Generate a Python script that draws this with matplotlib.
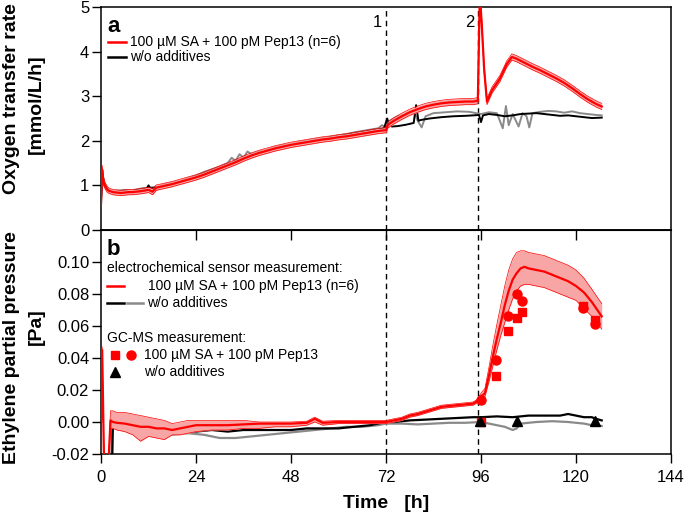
"""Two-panel chart: oxygen transfer rate (a) and ethylene partial pressure (b) over time."""

import matplotlib
matplotlib.use("Agg")
import matplotlib.pyplot as plt
import numpy as np

plt.rcParams["font.family"] = ["Liberation Sans", "DejaVu Sans"]

# ---- panel a: oxygen transfer rate [mmol/L/h] ----
OTR_T_RED = [0, 0.3, 0.6, 1.0, 1.5, 2, 3, 4, 5, 6, 7, 8,
             10, 12, 13, 14, 16, 18, 20, 22, 24, 26, 28, 30, 32, 34, 36, 38, 40,
             42, 44, 46, 48, 50, 52, 54, 56, 58, 60, 62, 64, 66, 68, 70, 72,
             72.5, 74, 76, 78, 80, 82, 84, 86, 88, 90, 92, 94,
             95.2, 95.7, 96.2, 96.8, 97.5, 98.8, 100.8, 102.5, 103.8, 105,
             107, 109, 111, 113, 115, 117, 119, 121, 123, 125, 126.5]
OTR_RED = [0.6, 1.35, 1.1, 1.0, 0.92, 0.88, 0.85, 0.84, 0.83, 0.84, 0.85, 0.85,
           0.87, 0.9, 0.86, 0.95, 0.99, 1.03, 1.08, 1.13, 1.18, 1.24, 1.31, 1.38, 1.45, 1.52, 1.6, 1.67, 1.73,
           1.78, 1.83, 1.87, 1.91, 1.94, 1.97, 2.0, 2.03, 2.05, 2.08, 2.1, 2.13, 2.16, 2.19, 2.22, 2.24,
           2.36, 2.45, 2.55, 2.64, 2.71, 2.77, 2.81, 2.84, 2.86, 2.87, 2.88, 2.88,
           2.9, 5.3, 4.6, 3.6, 2.88, 3.14, 3.4, 3.72, 3.88, 3.84,
           3.75, 3.66, 3.58, 3.49, 3.4, 3.3, 3.18, 3.05, 2.93, 2.83, 2.77]
OTR_RED_SD = [0.12, 0.1, 0.08, 0.07, 0.07, 0.06, 0.06, 0.06, 0.06, 0.06, 0.06, 0.06,
              0.06, 0.06, 0.07, 0.06, 0.06, 0.06, 0.06, 0.06, 0.06, 0.06, 0.06, 0.06, 0.06, 0.06, 0.06, 0.06, 0.06,
              0.06, 0.06, 0.06, 0.06, 0.06, 0.06, 0.06, 0.06, 0.06, 0.06, 0.06, 0.06, 0.06, 0.06, 0.06, 0.06,
              0.07, 0.07, 0.07, 0.07, 0.07, 0.07, 0.07, 0.07, 0.07, 0.07, 0.07, 0.07,
              0.07, 0.08, 0.08, 0.08, 0.07, 0.07, 0.07, 0.07, 0.07, 0.07,
              0.07, 0.07, 0.07, 0.07, 0.07, 0.07, 0.07, 0.07, 0.07, 0.07, 0.07]

OTR_T_BLACK = [0, 0.4, 0.8, 1.5, 2.5, 4, 6, 8, 10, 11.5,
               12, 12.5, 14, 16, 18, 20, 22, 24, 26, 28,
               30, 32, 34, 36, 38, 40, 42, 44, 46, 48, 50, 52, 54, 56, 58, 60, 62, 64, 66, 68, 70,
               71.5, 72.3, 72.8, 73.5, 75, 77, 79, 79.6, 80.2, 81,
               83, 86, 89, 92, 94, 95.5, 96, 96.5, 98, 100,
               102, 104, 106, 108, 110, 112, 114, 116, 118, 120,
               122, 124, 126.5]
OTR_BLACK = [0.7, 1.25, 1.05, 0.92, 0.86, 0.85, 0.86, 0.88, 0.9, 0.92,
             1.0, 0.93, 0.95, 1.0, 1.04, 1.09, 1.14, 1.2, 1.26, 1.33,
             1.4, 1.47, 1.54, 1.61, 1.68, 1.74, 1.79, 1.84, 1.88, 1.92, 1.95, 1.98, 2.01, 2.04, 2.07,
             2.1, 2.13, 2.16, 2.19, 2.22, 2.25,
             2.28, 2.5, 2.35, 2.32, 2.33, 2.36, 2.4, 2.8, 2.45, 2.47,
             2.5, 2.53, 2.55, 2.56, 2.57, 2.58, 2.42, 2.57, 2.6, 2.58,
             2.55, 2.57, 2.6, 2.61, 2.62, 2.6, 2.58, 2.56, 2.57, 2.55,
             2.53, 2.51, 2.52]

OTR_T_GRAY = [0, 0.4, 0.8, 1.5, 2.5, 4, 6, 8, 10, 12,
              14, 16, 18, 20, 22, 24, 26, 28, 30, 32,
              33, 34, 35, 36, 37, 38, 40, 42, 44, 46,
              48, 50, 52, 54, 56, 58, 60, 62, 64, 66,
              68, 70, 71, 72, 73, 75, 77, 79, 80, 81,
              82, 84, 87, 90, 93, 96, 98, 100, 101.5, 102.3,
              103, 104, 105.5, 106.5, 107.5, 108.2, 109, 111, 113, 115,
              117, 119, 121, 123, 125, 126.5]
OTR_GRAY = [0.55, 1.2, 1.0, 0.9, 0.87, 0.88, 0.9, 0.88, 0.93, 0.95,
            0.97, 1.02, 1.06, 1.1, 1.16, 1.22, 1.3, 1.36, 1.42, 1.5,
            1.62, 1.55, 1.7, 1.62, 1.76, 1.7, 1.76, 1.8, 1.86, 1.9,
            1.93, 1.97, 2.0, 2.03, 2.06, 2.09, 2.12, 2.15, 2.19, 2.22,
            2.25, 2.28, 2.35, 2.3, 2.45, 2.55, 2.6, 2.68, 2.45, 2.3,
            2.55, 2.62, 2.64, 2.66, 2.65, 2.6, 2.64, 2.62, 2.28, 2.78,
            2.35, 2.6, 2.32, 2.62, 2.55, 2.3, 2.62, 2.65, 2.67, 2.66,
            2.63, 2.66, 2.62, 2.6, 2.58, 2.57]

# ---- panel b: ethylene partial pressure [Pa] ----
ETH_T_RED = [0, 0.3, 0.8, 1.8, 2.4, 3, 4, 6, 8, 10,
             12, 14, 16, 18, 20, 22, 24, 28, 32, 36,
             40, 44, 48, 52, 54, 56, 60, 64, 68, 72,
             74, 76, 78, 80, 82, 84, 86, 88, 90, 92,
             94, 95, 96, 97, 98, 99, 100, 101, 102, 103,
             104, 105, 106, 107, 108, 110, 112, 114, 116, 118,
             120, 122, 124, 126.5]
ETH_RED = [0.0, 0.045, -0.03, -0.03, 0.001, 0.0, -0.0005, -0.001, -0.002, -0.003,
           -0.003, -0.004, -0.004, -0.005, -0.004, -0.003, -0.002, -0.002, -0.002, -0.0015,
           -0.001, -0.001, -0.001, -0.0005, 0.002, -0.0005, 0.0, 0.0, 0.0, 0.0,
           0.001, 0.002, 0.004, 0.005, 0.0065, 0.008, 0.0095, 0.010, 0.0105, 0.011,
           0.0115, 0.013, 0.016, 0.018, 0.029, 0.041, 0.052, 0.062, 0.073, 0.082,
           0.089, 0.093, 0.096, 0.097, 0.096, 0.095, 0.094, 0.092, 0.090, 0.088,
           0.085, 0.081, 0.075, 0.066]
ETH_RED_HI = [0.002, 0.047, -0.03, -0.03, 0.007, 0.007, 0.006, 0.006, 0.005, 0.004,
              0.003, 0.002, 0.001, -0.001, 0.0, 0.001, 0.001, 0.001, 0.001, 0.001,
              0.0, 0.0, 0.0, 0.0005, 0.003, 0.0005, 0.001, 0.001, 0.001, 0.001,
              0.002, 0.003, 0.005, 0.006, 0.0075, 0.009, 0.0105, 0.011, 0.0115, 0.012,
              0.0125, 0.014, 0.018, 0.021, 0.034, 0.048, 0.061, 0.073, 0.085, 0.095,
              0.102, 0.106, 0.107, 0.107, 0.106, 0.105, 0.104, 0.102, 0.100, 0.098,
              0.095, 0.090, 0.083, 0.074]
ETH_RED_LO = [-0.002, 0.043, -0.03, -0.03, -0.004, -0.004, -0.005, -0.006, -0.008, -0.012,
              -0.009, -0.010, -0.011, -0.008, -0.008, -0.007, -0.006, -0.005, -0.005, -0.004,
              -0.004, -0.003, -0.003, -0.002, 0.0, -0.002, -0.001, -0.001, -0.001, -0.001,
              0.0, 0.001, 0.003, 0.004, 0.0055, 0.007, 0.0085, 0.009, 0.0095, 0.010,
              0.0105, 0.012, 0.014, 0.016, 0.025, 0.035, 0.045, 0.054, 0.062, 0.070,
              0.077, 0.082, 0.085, 0.086, 0.086, 0.085, 0.084, 0.082, 0.080, 0.078,
              0.076, 0.071, 0.066, 0.058]

ETH_T_BLACK = [0, 2.8, 3.0, 3.4, 5, 8, 10, 12, 14, 16,
               18, 20, 22, 24, 28, 32, 36, 40, 44, 48,
               52, 56, 60, 64, 68, 72, 74, 78, 82, 86,
               90, 94, 96, 100, 104, 108, 112, 116, 118, 120,
               122, 124, 125, 126.5]
ETH_BLACK = [-0.03, -0.03, -0.001, -0.002, -0.003, -0.005, -0.004, -0.006, -0.005, -0.006,
             -0.006, -0.005, -0.006, -0.006, -0.005, -0.006, -0.005, -0.005, -0.005, -0.005,
             -0.004, -0.004, -0.004, -0.003, -0.002, 0.0, 0.0, 0.001, 0.0015, 0.002,
             0.0025, 0.003, 0.003, 0.0035, 0.003, 0.004, 0.004, 0.004, 0.005, 0.004,
             0.003, 0.003, 0.002, 0.001]

ETH_T_GRAY = [0, 2.5, 2.9, 3.3, 5, 8, 10, 14, 18, 22,
              26, 30, 34, 38, 42, 46, 50, 54, 58, 62,
              66, 70, 72, 76, 80, 84, 88, 92, 96, 98,
              100, 102, 104, 105, 106, 110, 114, 118, 122, 124,
              126.5]
ETH_GRAY = [-0.03, -0.03, -0.002, -0.002, -0.004, -0.007, -0.007, -0.008, -0.008, -0.007,
            -0.008, -0.010, -0.010, -0.009, -0.008, -0.007, -0.006, -0.005, -0.004, -0.003,
            -0.003, -0.002, -0.001, -0.001, -0.0015, -0.001, -0.0005, -0.0005, 0.0, -0.001,
            -0.002, -0.003, -0.005, -0.004, -0.001, 0.0, 0.0005, 0.0, -0.001, -0.002,
            -0.0025]

# GC-MS samples
GC_CIRCLE_T = [96.1, 99.8, 102.9, 105.2, 106.3, 121.8, 124.8]
GC_CIRCLE = [0.014, 0.039, 0.066, 0.080, 0.0757, 0.0715, 0.061]
GC_SQUARE_T = [96.1, 99.8, 102.9, 105.2, 106.3, 121.8, 124.8]
GC_SQUARE = [0.0, 0.0286, 0.057, 0.065, 0.0688, 0.0725, 0.0637]
GC_TRI_T = [95.8, 105.2, 124.8]
GC_TRI = [0.0005, 0.0005, 0.0005]

EVENTS = [72, 95.2]
EVENT_LABELS = ["1", "2"]
X_TICKS = [0, 24, 48, 72, 96, 120, 144]
OTR_TICKS = [0, 1, 2, 3, 4, 5]
ETH_TICKS = [-0.02, 0.0, 0.02, 0.04, 0.06, 0.08, 0.10]

RED = "#ff0000"
BAND = "#f7a5a5"
GRAY = "#8a8a8a"

fig = plt.figure(figsize=(6.85, 5.16), dpi=100)
W, H = 685, 516
L, R = 101, 671
ax_a = fig.add_axes([L / W, 1 - 230 / H, (R - L) / W, 223 / H])
ax_b = fig.add_axes([L / W, 1 - 454 / H, (R - L) / W, 224 / H])

for ax in (ax_a, ax_b):
    for s in ax.spines.values():
        s.set_linewidth(1.1)
    ax.set_xlim(0, 144)
    for ev in EVENTS:
        ax.axvline(ev, color="black", lw=1.0, ls=(0, (4, 3)), zorder=1)
    ax.tick_params(axis="y", direction="out", length=6.5, width=1.0, labelsize=12, pad=2)

# panel a
t = np.array(OTR_T_RED)
m = np.array(OTR_RED)
sd = np.array(OTR_RED_SD)
ax_a.plot(OTR_T_GRAY, OTR_GRAY, color=GRAY, lw=1.4, zorder=2)
ax_a.plot(OTR_T_BLACK, OTR_BLACK, color="black", lw=1.4, zorder=3)
ax_a.fill_between(t, m - sd, m + sd, color=BAND, lw=0, zorder=4)
ax_a.plot(t, m - sd, color=RED, lw=0.5, zorder=4)
ax_a.plot(t, m + sd, color=RED, lw=0.5, zorder=4)
ax_a.plot(t, m, color=RED, lw=1.6, zorder=5)
ax_a.set_ylim(0, 5)
ax_a.set_yticks(OTR_TICKS)
ax_a.set_xticks([])
for ev, lab in zip(EVENTS, EVENT_LABELS):
    ax_a.text(ev - 0.9, 4.66, lab, ha="right", va="center", fontsize=12)

ax_a.text(0.012, 0.888, "a", transform=ax_a.transAxes, fontsize=16, fontweight="bold",
          va="baseline")
ax_a.plot([0.0123, 0.0439], [0.8445, 0.8445], color=RED, lw=1.8, transform=ax_a.transAxes)
ax_a.text(0.0509, 0.8445, "100 µM SA + 100 pM Pep13 (n=6)", transform=ax_a.transAxes,
          fontsize=10, va="center")
ax_a.plot([0.0123, 0.0439], [0.7745, 0.7745], color="black", lw=1.8, transform=ax_a.transAxes)
ax_a.text(0.0509, 0.7745, "w/o additives", transform=ax_a.transAxes, fontsize=10, va="center")

# panel b
ax_b.plot(ETH_T_GRAY, ETH_GRAY, color=GRAY, lw=1.6, zorder=2)
ax_b.plot(ETH_T_BLACK, ETH_BLACK, color="black", lw=1.6, zorder=3)
ax_b.fill_between(ETH_T_RED, ETH_RED_LO, ETH_RED_HI, color=BAND, lw=0, zorder=4)
ax_b.plot(ETH_T_RED, ETH_RED_LO, color=RED, lw=0.5, zorder=4)
ax_b.plot(ETH_T_RED, ETH_RED_HI, color=RED, lw=0.5, zorder=4)
ax_b.plot(ETH_T_RED, ETH_RED, color=RED, lw=1.6, zorder=5)
ax_b.plot(GC_SQUARE_T, GC_SQUARE, "s", color=RED, ms=6, zorder=6)
ax_b.plot(GC_CIRCLE_T, GC_CIRCLE, "o", color=RED, ms=6.5, zorder=6)
ax_b.plot(GC_TRI_T, GC_TRI, "^", color="black", ms=7, zorder=7)
ax_b.set_ylim(-0.02, 0.12)
ax_b.set_yticks(ETH_TICKS)
ax_b.set_yticklabels([f"{v:.2f}" for v in ETH_TICKS])
ax_b.set_xticks(X_TICKS)
ax_b.tick_params(axis="x", direction="out", length=6.5, width=1.0, labelsize=12, pad=5)
top = ax_b.secondary_xaxis("top")
top.set_xticks(X_TICKS[1:-1])
top.tick_params(direction="in", length=7, width=1.0, labeltop=False)
ax_b.set_xlabel("Time   [h]", fontsize=14, fontweight="bold", labelpad=7)

# y-axis titles, two lines each
ylab = dict(rotation=90, ha="center", va="center", fontsize=14, fontweight="bold")
fig.text(12 / W, 1 - 99 / H, "Oxygen transfer rate", **ylab)
fig.text(36 / W, 1 - 104 / H, "[mmol/L/h]", **ylab)
fig.text(12 / W, 1 - 348 / H, "Ethylene partial pressure", **ylab)
fig.text(36 / W, 1 - 327 / H, "[Pa]", **ylab)

tr = ax_b.transAxes
ax_b.text(0.010, 0.888, "b", transform=tr, fontsize=16, fontweight="bold", va="baseline")
ax_b.text(0.0105, 0.829, "electrochemical sensor measurement:", transform=tr, fontsize=10,
          va="center")
ax_b.plot([0.0105, 0.0404], [0.75, 0.75], color=RED, lw=1.8, transform=tr)
ax_b.text(0.083, 0.75, "100 µM SA + 100 pM Pep13 (n=6)", transform=tr, fontsize=10, va="center")
ax_b.plot([0.0105, 0.0404], [0.6755, 0.6755], color="black", lw=1.8, transform=tr)
ax_b.plot([0.0451, 0.0742], [0.6755, 0.6755], color=GRAY, lw=1.8, transform=tr)
ax_b.text(0.0802, 0.6755, "w/o additives", transform=tr, fontsize=10, va="center")
ax_b.text(0.0105, 0.5165, "GC-MS measurement:", transform=tr, fontsize=10, va="center")
ax_b.plot([0.0246], [0.442], "s", color=RED, ms=6, transform=tr)
ax_b.plot([0.0526], [0.442], "o", color=RED, ms=6.5, transform=tr)
ax_b.text(0.0754, 0.442, "100 µM SA + 100 pM Pep13", transform=tr, fontsize=10, va="center")
ax_b.plot([0.0246], [0.367], "^", color="black", ms=7, transform=tr)
ax_b.text(0.0754, 0.367, "w/o additives", transform=tr, fontsize=10, va="center")

fig.savefig("out.png", dpi=100)
